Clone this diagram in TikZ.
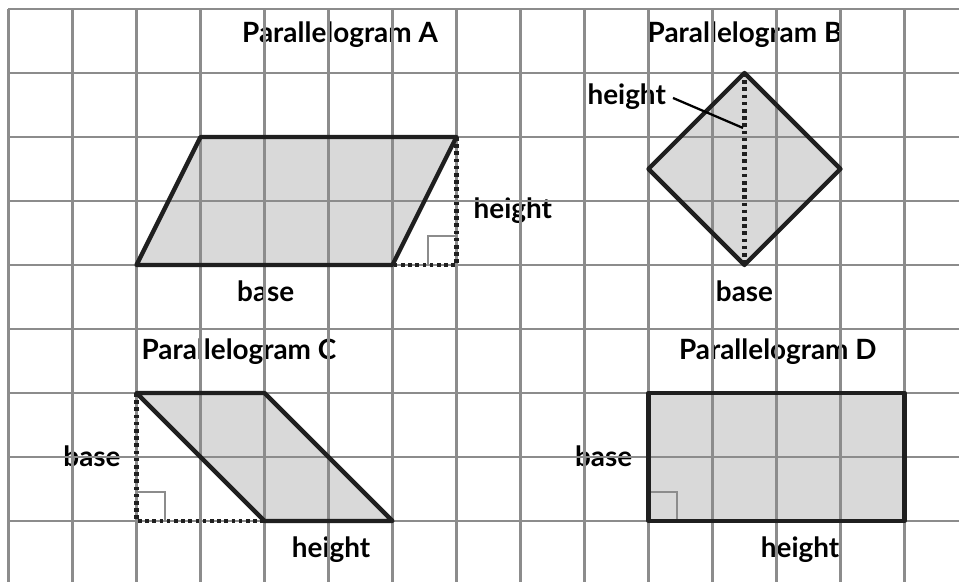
\documentclass[tikz,border=0pt]{standalone}
\usepackage{fontspec}
\setmainfont{Lato}
\begin{document}
\begin{tikzpicture}[x=1cm,y=1cm,
  gridline/.style={draw=black!45,line width=1.1pt},
  pfill/.style={fill=black!15},
  outline/.style={draw=black!88,line width=1.9pt,line join=round},
  dots/.style={draw=black!88,line width=2.1pt,dash pattern=on 1.6pt off 1.6pt},
  rightmark/.style={draw=black!45,line width=0.9pt},
  lbl/.style={font=\bfseries\fontsize{12.4}{14}\selectfont,anchor=base,inner sep=0pt},
  leader/.style={draw=black,line width=1pt}]
\useasboundingbox (-0.1328,0.1406) rectangle (14.852,-8.953);
% fills
\path[pfill] (2,-4) -- (6,-4) -- (7,-2) -- (3,-2) -- cycle;
\path[pfill] (11.5,-1) -- (13,-2.5) -- (11.5,-4) -- (10,-2.5) -- cycle;
\path[pfill] (2,-6) -- (4,-6) -- (6,-8) -- (4,-8) -- cycle;
\path[pfill] (10,-6) rectangle (14,-8);
% labels
\node[lbl] (tA) at (5.18,-0.516) {Parallelogram A};
\node[lbl] (tB) at (11.508,-0.516) {Parallelogram B};
\node[lbl] (tC) at (3.60,-5.484) {Parallelogram C};
\node[lbl] (tD) at (12.02,-5.484) {Parallelogram D};
\node[lbl] (bA) at (4.02,-4.578) {base};
\node[lbl] (hA) at (7.88,-3.266) {height};
\node[lbl] (hB) at (9.66,-1.5) {height};
\node[lbl] (bB) at (11.5,-4.578) {base};
\node[lbl] (bC) at (1.305,-7.156) {base};
\node[lbl] (hC) at (5.04,-8.578) {height};
\node[lbl] (bD) at (9.30,-7.156) {base};
\node[lbl] (hD) at (12.37,-8.578) {height};
% grid
\foreach \i in {0,...,14} \draw[gridline] (\i,0) -- (\i,-8.953);
\foreach \j in {0,...,8} \draw[gridline] (0,-\j) -- (14.852,-\j);
% right angle marks
\draw[rightmark] (6.55,-4) -- (6.55,-3.55) -- (7,-3.55);
\draw[rightmark] (2,-7.55) -- (2.45,-7.55) -- (2.45,-8);
\draw[rightmark] (10,-7.55) -- (10.45,-7.55) -- (10.45,-8);
% dotted heights/bases
\draw[dots] (7,-2) -- (7,-4) -- (6,-4);
\draw[dots] (11.5,-1) -- (11.5,-4);
\draw[dots] (2,-6) -- (2,-8) -- (4,-8);
% outlines
\draw[outline] (2,-4) -- (6,-4) -- (7,-2) -- (3,-2) -- cycle;
\draw[outline] (11.5,-1) -- (13,-2.5) -- (11.5,-4) -- (10,-2.5) -- cycle;
\draw[outline] (2,-6) -- (4,-6) -- (6,-8) -- (4,-8) -- cycle;
\draw[outline] (10,-6) rectangle (14,-8);
% leader
\coordinate (hBstart) at (10.383,-1.39);
\coordinate (hBend) at (11.477,-1.859);
\draw[leader] (hBstart) -- (hBend);
\end{tikzpicture}
\end{document}
